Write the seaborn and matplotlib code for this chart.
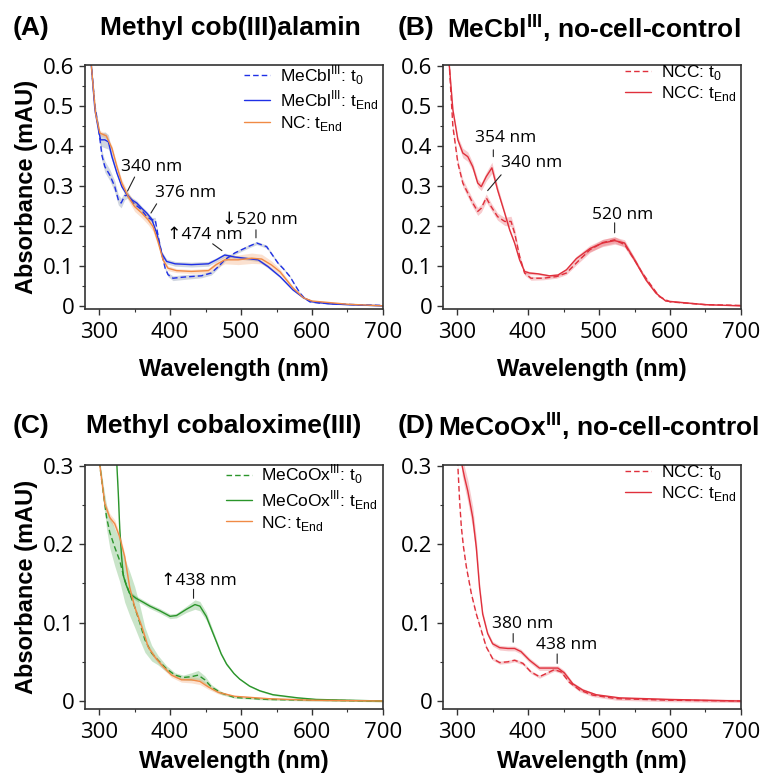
import numpy as np
import pandas as pd
import seaborn as sns
import matplotlib.pyplot as plt
from matplotlib.ticker import MultipleLocator, FuncFormatter

# ---- (A) Methyl cob(III)alamin ----
a_t0_wl = [284, 289, 294, 299, 304, 308, 315, 322, 327, 331, 336, 340, 348, 358, 367, 374, 379, 383, 389, 393,
           397, 404, 420, 444, 458, 468, 477, 491, 510, 522, 536, 552, 560, 569, 576, 583, 590, 597, 610, 630, 660, 700]
a_t0 = [0.72, 0.6, 0.5, 0.445, 0.375, 0.348, 0.327, 0.298, 0.265, 0.257, 0.275, 0.277, 0.257, 0.243, 0.223, 0.215,
        0.215, 0.175, 0.124, 0.094, 0.078, 0.069, 0.072, 0.075, 0.082, 0.098, 0.115, 0.132, 0.148, 0.157, 0.148,
        0.107, 0.092, 0.073, 0.052, 0.032, 0.018, 0.01, 0.007, 0.005, 0.003, 0.001]
a_t0_sd = [0.004, 0.004, 0.006, 0.01, 0.013, 0.014, 0.014, 0.014, 0.013, 0.012, 0.01, 0.008, 0.006, 0.005, 0.005,
           0.006, 0.006, 0.005, 0.004, 0.004, 0.005, 0.006, 0.006, 0.005, 0.005, 0.004, 0.004, 0.004, 0.004, 0.004,
           0.004, 0.003, 0.003, 0.002, 0.002, 0.002, 0.001, 0.001, 0.001, 0.001, 0.001, 0.001]

a_end_wl = [284, 289, 294, 299, 302, 308, 313, 318, 325, 332, 339, 346, 353, 360, 367, 374, 381, 388, 395, 407,
            430, 454, 465, 477, 491, 510, 524, 538, 555, 573, 588, 601, 625, 650, 700]
a_end = [0.72, 0.6, 0.49, 0.44, 0.415, 0.415, 0.41, 0.373, 0.332, 0.298, 0.278, 0.265, 0.257, 0.244, 0.232, 0.217,
         0.182, 0.132, 0.111, 0.105, 0.103, 0.105, 0.115, 0.127, 0.122, 0.118, 0.115, 0.098, 0.073, 0.04, 0.02,
         0.01, 0.005, 0.003, 0.0]
a_end_sd = [0.004, 0.004, 0.006, 0.01, 0.016, 0.02, 0.018, 0.01, 0.006, 0.006, 0.006, 0.006, 0.006, 0.005, 0.005,
            0.005, 0.005, 0.005, 0.006, 0.006, 0.006, 0.006, 0.005, 0.005, 0.004, 0.004, 0.004, 0.004, 0.003,
            0.002, 0.002, 0.001, 0.001, 0.001, 0.001]

a_nc_wl = [289, 295, 301, 310, 318, 325, 332, 341, 350, 360, 369, 376, 383, 390, 397, 409, 430, 454, 465, 477,
           496, 515, 529, 543, 555, 573, 588, 600, 650, 700]
a_nc = [0.6, 0.48, 0.432, 0.425, 0.394, 0.348, 0.307, 0.273, 0.248, 0.232, 0.215, 0.198, 0.16, 0.115, 0.094, 0.088,
        0.086, 0.088, 0.103, 0.115, 0.115, 0.119, 0.117, 0.102, 0.085, 0.045, 0.02, 0.012, 0.004, 0.0]
a_nc_sd = [0.004, 0.005, 0.006, 0.006, 0.006, 0.007, 0.008, 0.01, 0.012, 0.012, 0.012, 0.012, 0.01, 0.007, 0.006,
           0.005, 0.005, 0.006, 0.008, 0.01, 0.012, 0.013, 0.012, 0.01, 0.007, 0.004, 0.002, 0.002, 0.001, 0.001]

# ---- (B) MeCbl no-cell-control ----
b_t0_wl = [284, 289, 294, 301, 308, 315, 322, 329, 334, 341, 348, 357, 367, 376, 381, 388, 395, 404, 421, 440,
           454, 468, 487, 505, 522, 536, 550, 560, 571, 585, 600, 650, 700]
b_t0 = [0.72, 0.6, 0.448, 0.357, 0.307, 0.282, 0.257, 0.236, 0.244, 0.27, 0.248, 0.223, 0.211, 0.211, 0.182,
        0.124, 0.082, 0.069, 0.069, 0.073, 0.082, 0.107, 0.14, 0.158, 0.165, 0.153, 0.115, 0.085, 0.057, 0.023,
        0.01, 0.003, 0.001]
b_t0_sd = [0.004, 0.004, 0.006, 0.009, 0.01, 0.01, 0.01, 0.01, 0.01, 0.01, 0.009, 0.009, 0.01, 0.013, 0.012,
           0.006, 0.005, 0.005, 0.004, 0.004, 0.004, 0.005, 0.007, 0.008, 0.008, 0.007, 0.006, 0.004, 0.003,
           0.002, 0.001, 0.001, 0.001]

b_end_wl = [284, 289, 294, 301, 308, 315, 322, 329, 334, 341, 349, 357, 367, 374, 381, 388, 395, 402, 414, 430,
            442, 454, 468, 487, 505, 522, 536, 550, 566, 580, 594, 650, 700]
b_end = [0.72, 0.6, 0.49, 0.415, 0.382, 0.373, 0.348, 0.307, 0.298, 0.323, 0.345, 0.29, 0.232, 0.19, 0.157, 0.115,
         0.086, 0.082, 0.08, 0.075, 0.077, 0.09, 0.118, 0.143, 0.157, 0.163, 0.157, 0.115, 0.065, 0.032, 0.012,
         0.003, 0.0]
b_end_sd = [0.004, 0.004, 0.006, 0.008, 0.012, 0.012, 0.01, 0.01, 0.01, 0.011, 0.014, 0.01, 0.006, 0.005, 0.005,
            0.004, 0.004, 0.004, 0.003, 0.003, 0.003, 0.004, 0.006, 0.008, 0.009, 0.009, 0.008, 0.006, 0.004,
            0.002, 0.001, 0.001, 0.001]

# ---- (C) Methyl cobaloxime(III) ----
c_t0_wl = [296, 301, 306, 310.5, 315, 322, 329, 336, 343, 350, 357.5, 364.5, 374, 383, 395, 407, 418.5, 430,
           439.6, 449, 458, 472.5, 491, 538, 600, 700]
c_t0 = [0.36, 0.3, 0.264, 0.234, 0.215, 0.196, 0.179, 0.154, 0.137, 0.12, 0.099, 0.078, 0.061, 0.052, 0.041, 0.033,
        0.03, 0.031, 0.033, 0.027, 0.018, 0.01, 0.0045, 0.002, 0.001, 0.0]
c_t0_sd = [0.004, 0.006, 0.01, 0.015, 0.02, 0.024, 0.027, 0.028, 0.028, 0.026, 0.022, 0.016, 0.01, 0.006, 0.004,
           0.003, 0.003, 0.005, 0.006, 0.005, 0.003, 0.002, 0.001, 0.001, 0.001, 0.001]

c_end_wl = [318, 322, 325, 327, 329, 331.6, 334, 338, 343, 352, 362, 371.5, 385.6, 400, 409, 423, 435, 442, 451,
            458, 465.5, 472, 479.6, 490, 498, 512, 526.5, 545, 559, 580, 606, 650, 700]
c_end = [0.45, 0.36, 0.3, 0.264, 0.22, 0.184, 0.16, 0.148, 0.137, 0.131, 0.126, 0.121, 0.115, 0.108, 0.109, 0.117,
         0.123, 0.121, 0.108, 0.092, 0.075, 0.06, 0.047, 0.035, 0.028, 0.019, 0.013, 0.008, 0.0064, 0.004, 0.002,
         0.001, 0.0]
c_end_sd = [0.004, 0.004, 0.004, 0.004, 0.004, 0.003, 0.003, 0.003, 0.003, 0.003, 0.003, 0.003, 0.003, 0.003,
            0.003, 0.004, 0.006, 0.006, 0.005, 0.004, 0.003, 0.002, 0.002, 0.001, 0.001, 0.001, 0.001, 0.001,
            0.001, 0.001, 0.001, 0.001, 0.001]

c_nc_wl = [296, 301, 308, 315, 322, 329, 336, 343, 350, 360, 369, 378.6, 388, 402, 416, 430, 442, 453.7, 468, 491,
           538, 600, 700]
c_nc = [0.36, 0.3, 0.251, 0.234, 0.226, 0.209, 0.184, 0.145, 0.12, 0.095, 0.069, 0.056, 0.046, 0.033, 0.027, 0.027,
        0.025, 0.018, 0.011, 0.006, 0.003, 0.001, 0.0]
c_nc_sd = [0.003, 0.004, 0.005, 0.005, 0.005, 0.005, 0.004, 0.003, 0.003, 0.003, 0.003, 0.003, 0.003, 0.003,
           0.003, 0.004, 0.004, 0.003, 0.002, 0.001, 0.001, 0.001, 0.001]

# ---- (D) MeCoOx no-cell-control ----
d_t0_wl = [298, 301, 303.5, 306, 309, 313, 320, 327, 334, 341, 350, 360, 371.5, 381, 392.7, 404, 416, 425.5, 437,
           446.7, 458, 472.5, 491, 524, 600, 700]
d_t0 = [0.34, 0.3, 0.255, 0.221, 0.196, 0.171, 0.137, 0.111, 0.09, 0.069, 0.054, 0.049, 0.05, 0.052, 0.048, 0.037,
        0.031, 0.035, 0.04, 0.037, 0.024, 0.014, 0.0075, 0.003, 0.001, 0.0]
d_t0_sd = [0.002] * 26

d_end_wl = [303, 307, 310.5, 315, 322, 327, 331.6, 336, 343, 350, 360, 371.5, 381, 390, 402, 416, 430, 442, 451,
            463, 477, 496, 529, 600, 700]
d_end = [0.34, 0.3, 0.285, 0.268, 0.234, 0.196, 0.145, 0.111, 0.086, 0.073, 0.068, 0.067, 0.067, 0.063, 0.052,
         0.042, 0.042, 0.042, 0.036, 0.022, 0.014, 0.008, 0.004, 0.002, 0.0]
d_end_sd = [0.01, 0.012, 0.013, 0.014, 0.014, 0.012, 0.007, 0.004, 0.003, 0.003, 0.003, 0.003, 0.003, 0.003, 0.003,
            0.003, 0.003, 0.003, 0.003, 0.002, 0.002, 0.001, 0.001, 0.001, 0.001]

BLUE = "#1f30e6"
ORANGE = "#f08a45"
RED = "#e0303c"
GREEN = "#2a952a"

sns.set_style("ticks")
plt.rcParams['font.family'] = ['Open Sans', 'DejaVu Sans']
plt.rcParams['mathtext.fontset'] = 'custom'
plt.rcParams['mathtext.rm'] = 'Liberation Sans'
plt.rcParams['mathtext.bf'] = 'Liberation Sans:bold'
for k in ['text.color', 'axes.labelcolor', 'xtick.labelcolor', 'ytick.labelcolor']:
    plt.rcParams[k] = 'black'

fig = plt.figure(figsize=(7.69, 7.78), dpi=100)
axA = fig.add_axes([0.1105, 0.6028, 0.3875, 0.3136])
axB = fig.add_axes([0.576, 0.6028, 0.3875, 0.3136])
axC = fig.add_axes([0.1105, 0.0887, 0.3875, 0.3136])
axD = fig.add_axes([0.576, 0.0887, 0.3875, 0.3136])


def curve(ax, wl, y, sd, color, label, dashed=False, band=None, band_alpha=0.25):
    y = np.array(y)
    sd = np.array(sd)
    ax.fill_between(wl, y - sd, y + sd, color=band or color, alpha=band_alpha, lw=0)
    sns.lineplot(x=wl, y=y, ax=ax, color=color, lw=1.0, label=label, estimator=None, sort=False)
    if dashed:
        ax.lines[-1].set_dashes([4, 2.2])


curve(axA, a_t0_wl, a_t0, a_t0_sd, BLUE, r"MeCbl$^{\mathrm{III}}$: t$_{\mathrm{0}}$", dashed=True, band="#7d8ca8", band_alpha=0.35)
curve(axA, a_end_wl, a_end, a_end_sd, BLUE, r"MeCbl$^{\mathrm{III}}$: t$_{\mathrm{End}}$", band="#7d8ca8", band_alpha=0.35)
curve(axA, a_nc_wl, a_nc, a_nc_sd, ORANGE, r"NC: t$_{\mathrm{End}}$")

curve(axB, b_t0_wl, b_t0, b_t0_sd, RED, r"NCC: t$_{\mathrm{0}}$", dashed=True)
curve(axB, b_end_wl, b_end, b_end_sd, RED, r"NCC: t$_{\mathrm{End}}$")

curve(axC, c_t0_wl, c_t0, c_t0_sd, GREEN, r"MeCoOx$^{\mathrm{III}}$: t$_{\mathrm{0}}$", dashed=True)
curve(axC, c_end_wl, c_end, c_end_sd, GREEN, r"MeCoOx$^{\mathrm{III}}$: t$_{\mathrm{End}}$")
curve(axC, c_nc_wl, c_nc, c_nc_sd, ORANGE, r"NC: t$_{\mathrm{End}}$")

curve(axD, d_t0_wl, d_t0, d_t0_sd, RED, r"NCC: t$_{\mathrm{0}}$", dashed=True)
curve(axD, d_end_wl, d_end, d_end_sd, RED, r"NCC: t$_{\mathrm{End}}$")

fmt = FuncFormatter(lambda v, p: "0" if abs(v) < 1e-9 else f"{v:.1f}")
for ax, top, bot, lp in [(axA, 0.602, -0.008, 11), (axB, 0.602, -0.008, 11),
                         (axC, 0.301, -0.0102, 5), (axD, 0.301, -0.0102, 5)]:
    ax.set_xlim(280, 700)
    ax.set_ylim(bot, top)
    ax.xaxis.set_major_locator(MultipleLocator(100))
    ax.xaxis.set_minor_locator(MultipleLocator(50))
    ax.yaxis.set_major_locator(MultipleLocator(0.1))
    ax.yaxis.set_minor_locator(MultipleLocator(0.05))
    ax.yaxis.set_major_formatter(fmt)
    ax.tick_params(which='major', length=4.5, width=1.0, labelsize=16, pad=3, color="#333333")
    ax.tick_params(axis='x', which='major', pad=5)
    ax.tick_params(which='minor', length=2.5, width=0.8, color="#333333")
    for s in ax.spines.values():
        s.set_linewidth(1.2)
        s.set_color("#333333")
    ax.set_xlabel("Wavelength (nm)", family="Liberation Sans", fontweight="bold", fontsize=17, labelpad=lp)
    ax.legend(loc="upper right", bbox_to_anchor=(1.0, 1.03), frameon=False, handlelength=1.5,
              handletextpad=0.55, labelspacing=0.1, borderaxespad=0.0, borderpad=0.3,
              prop={'family': 'Liberation Sans', 'size': 12.5})

for ax in (axA, axC):
    ax.set_ylabel("Absorbance (mAU)", family="Liberation Sans", fontweight="bold", fontsize=17, labelpad=4)
for ax in (axB, axD):
    ax.set_ylabel("")

# panel titles
tkw = dict(family="Liberation Sans", fontweight="bold", fontsize=19, va="center")
fig.text(13 / 769, 1 - 28 / 778, "(A)", **tkw)
fig.text(100 / 769, 1 - 28 / 778, "Methyl cob(III)alamin", **tkw)
fig.text(398 / 769, 1 - 28 / 778, "(B)", **tkw)
fig.text(447 / 769, 1 - 28 / 778, r"MeCbl$^{\mathbf{III}}$, no-cell-control", **tkw)
fig.text(13 / 769, 1 - 426 / 778, "(C)", **tkw)
fig.text(86 / 769, 1 - 426 / 778, "Methyl cobaloxime(III)", **tkw)
fig.text(398 / 769, 1 - 426 / 778, "(D)", **tkw)
fig.text(438 / 769, 1 - 426 / 778, r"MeCoOx$^{\mathbf{III}}$, no-cell-control", **tkw)

# peak annotations (label text + thin leader line)
akw = dict(fontsize=12.5, ha="center", va="center")
lkw = dict(arrowprops=dict(arrowstyle="-", lw=0.8, color="#222222", shrinkA=0, shrinkB=0))
axA.annotate("340 nm", xy=(374, 0.3475), **akw)
axA.annotate("", xy=(340, 0.287), xytext=(350, 0.322), **lkw)
axA.annotate("376 nm", xy=(422, 0.283), **akw)
axA.annotate("", xy=(373, 0.232), xytext=(381, 0.255), **lkw)
axA.annotate("\u2191474 nm", xy=(449, 0.178), **akw)
axA.annotate("", xy=(473, 0.138), xytext=(460, 0.155), **lkw)
axA.annotate("\u2193520 nm", xy=(526, 0.215), **akw)
axA.annotate("", xy=(521, 0.17), xytext=(521, 0.19), **lkw)

axB.annotate("354 nm", xy=(368, 0.42), **akw)
axB.annotate("", xy=(351, 0.373), xytext=(351, 0.39), **lkw)
axB.annotate("340 nm", xy=(405, 0.3575), **akw)
axB.annotate("", xy=(343, 0.288), xytext=(362, 0.3275), **lkw)
axB.annotate("520 nm", xy=(533, 0.2275), **akw)
axB.annotate("", xy=(522, 0.1825), xytext=(522, 0.2075), **lkw)

axC.annotate("\u2191438 nm", xy=(440, 0.153), **akw)
axC.annotate("", xy=(433, 0.131), xytext=(433, 0.1425), **lkw)

axD.annotate("380 nm", xy=(393, 0.098), **akw)
axD.annotate("", xy=(379, 0.075), xytext=(379, 0.086), **lkw)
axD.annotate("438 nm", xy=(454, 0.071), **akw)
axD.annotate("", xy=(441, 0.048), xytext=(441, 0.06), **lkw)

fig.savefig("out.png", dpi=100)
